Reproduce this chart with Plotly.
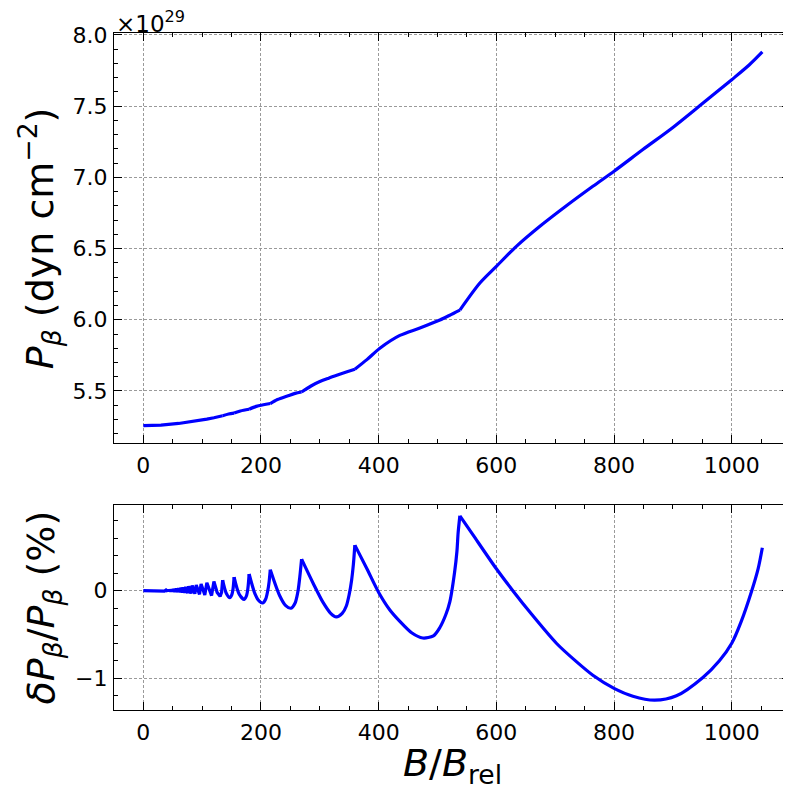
import plotly.graph_objects as go

# ---------------- data ----------------
# top panel: P_beta in units of 1e29 dyn cm^-2
B_top = [0, 30, 60, 90, 108, 120, 134.8, 145, 154.3, 165, 179.8, 192, 204, 215.8,
         228, 245, 258, 269, 285, 300, 315, 330, 345, 359.5, 380, 402, 436, 470,
         504, 520, 538, 572, 600, 634, 674, 719, 764, 800, 849, 900, 945, 1000,
         1030, 1052]
P_top = [5.257, 5.261, 5.272, 5.289, 5.302, 5.312, 5.326, 5.338, 5.345, 5.360,
         5.372, 5.392, 5.403, 5.412, 5.440, 5.465, 5.483, 5.493, 5.535, 5.566,
         5.590, 5.612, 5.633, 5.653, 5.72, 5.80, 5.89, 5.942, 5.998, 6.03, 6.068,
         6.258, 6.375, 6.515, 6.656, 6.80, 6.937, 7.043, 7.195, 7.35, 7.50,
         7.685, 7.79, 7.88]

# bottom panel: relative difference (%)
B_bot = [0, 20, 30, 36, 38.6, 39.7, 40, 41.2, 41.5, 42.9, 43.2, 44.7, 45, 46.6,
         47, 48.7, 49.1, 50.9, 51.4, 53.5, 54, 56.2, 56.8, 59.2, 60, 62.6, 63.5,
         66.3, 67.5, 70.6, 72, 75.5, 77.1, 81.1, 83.1, 87.6, 90, 95.5, 98.2,
         104.5, 108, 116, 120, 125.5, 130.5, 133, 134.8, 141, 147, 150.5, 152.5,
         154.3, 163, 171.5, 175.5, 177.8, 179.8, 190, 197, 203, 208, 211.5,
         213.8, 215.8, 232, 242, 251, 258, 263, 266, 269, 289, 306, 318, 328,
         338, 345, 350, 354, 357, 359.5, 380, 400, 419, 436, 456, 475, 493, 504,
         514, 521, 529, 533, 535, 538, 560, 600, 628, 660, 702, 736, 764, 800,
         832, 869, 906, 951, 979, 1000, 1016, 1034, 1045, 1052]
dP = [0.0, 0.0, 0.001, -0.004, 0.008, -0.005, 0.009, -0.006, 0.011, -0.007,
      0.013, -0.008, 0.015, -0.009, 0.017, -0.010, 0.019, -0.011, 0.022, -0.013,
      0.025, -0.015, 0.028, -0.017, 0.031, -0.019, 0.035, -0.022, 0.040, -0.025,
      0.045, -0.028, 0.051, -0.032, 0.058, -0.036, 0.066, -0.042, 0.077, -0.048,
      0.090, -0.056, 0.105, -0.020, -0.065, -0.020, 0.120, -0.030, -0.080,
      -0.045, 0.020, 0.155, -0.040, -0.100, -0.055, 0.030, 0.190, -0.040,
      -0.120, -0.140, -0.095, 0.0, 0.100, 0.240, -0.060, -0.170, -0.200,
      -0.140, 0.0, 0.160, 0.360, 0.080, -0.140, -0.255, -0.300, -0.260,
      -0.175, -0.040, 0.120, 0.300, 0.520, 0.250, -0.020, -0.220, -0.350,
      -0.480, -0.540, -0.515, -0.420, -0.275, -0.125, 0.210, 0.450, 0.660,
      0.855, 0.640, 0.250, 0.0, -0.270, -0.600, -0.810, -0.965, -1.115, -1.205,
      -1.250, -1.200, -0.990, -0.800, -0.600, -0.353, 0.0, 0.255, 0.490]

# field values where the curves have cusps (Landau level thresholds)
cusps = [134.8, 154.3, 179.8, 215.8, 269, 359.5, 538]

x_ticks = [0, 200, 400, 600, 800, 1000]
x_labels = ["0", "200", "400", "600", "800", "1000"]
top_y_ticks = [5.5, 6.0, 6.5, 7.0, 7.5, 8.0]
top_y_labels = ["5.5", "6.0", "6.5", "7.0", "7.5", "8.0"]
bot_y_ticks = [-1, 0]
bot_y_labels = ["\u22121", "0"]

x_title = "<i>B</i>/<i>B</i><sub>rel</sub>"
top_y_title = "<i>P</i><sub><i>\u03b2</i></sub> (dyn cm<sup>\u22122</sup>)"
bot_y_title = "<i>\u03b4P</i><sub><i>\u03b2</i></sub>/<i>P</i><sub><i>\u03b2</i></sub> (%)"
offset_text = "\u00d710<sup>29</sup>"

# ---------------- figure ----------------
FONT = "DejaVu Sans"
BLUE = "#0000ff"
LW = 3.2
fig = go.Figure()


def add_segments(xs, ys, xa, ya):
    """Split a curve at the cusps; draw each piece smoothly."""
    bounds = [xs[0]] + cusps + [xs[-1]]
    for i in range(len(bounds) - 1):
        lo, hi = bounds[i], bounds[i + 1]
        sx = [x for x in xs if lo <= x <= hi]
        sy = [y for x, y in zip(xs, ys) if lo <= x <= hi]
        shape = "linear" if i == 0 else "spline"
        fig.add_trace(go.Scatter(x=sx, y=sy, mode="lines",
                                 line=dict(color=BLUE, width=LW, shape=shape,
                                           smoothing=0.8),
                                 xaxis=xa, yaxis=ya, showlegend=False,
                                 hoverinfo="skip"))


add_segments(B_top, P_top, "x", "y")
add_segments(B_bot, dP, "x2", "y2")


def axstyle(**kw):
    d = dict(showline=True, linecolor="black", linewidth=1.3, mirror="allticks",
             ticks="inside", ticklen=8, tickwidth=1.3, tickcolor="black",
             showgrid=True, gridcolor="#9a9a9a", gridwidth=0.8, griddash="3px,2px",
             zeroline=False, automargin=False,
             tickfont=dict(family=FONT, size=22, color="black"))
    d.update(kw)
    return d


minor_x = dict(ticks="inside", ticklen=4, tickwidth=1.1, tickcolor="black",
               tick0=0, dtick=50, showgrid=False)

title_font = dict(family=FONT, size=38, color="black")

# the page places the figure 8 px from the top-left corner; margins compensate
fig.update_layout(
    width=791, height=791,
    margin=dict(l=106, r=9, t=25, b=89),
    plot_bgcolor="white", paper_bgcolor="white",
    font=dict(family=FONT, color="black"),
    xaxis=axstyle(domain=[0, 1], range=[-49.8, 1099], anchor="y",
                  tickmode="array", tickvals=x_ticks, ticktext=x_labels,
                  minor=minor_x, ticklabelstandoff=2),
    yaxis=axstyle(domain=[0.394, 1], range=[5.133, 8.013], anchor="x",
                  tickmode="array", tickvals=top_y_ticks, ticktext=top_y_labels,
                  minor=dict(ticks="inside", ticklen=4, tickwidth=1.1,
                             tickcolor="black", tick0=0, dtick=0.1, showgrid=False),
                  ticklabelstandoff=1),
    xaxis2=axstyle(domain=[0, 1], range=[-49.8, 1099], anchor="y2",
                   tickmode="array", tickvals=x_ticks, ticktext=x_labels,
                   minor=minor_x, ticklabelstandoff=2),
    yaxis2=axstyle(domain=[0, 0.3028], range=[-1.362, 0.978], anchor="x2",
                   tickmode="array", tickvals=bot_y_ticks, ticktext=bot_y_labels,
                   minor=dict(ticks="inside", ticklen=4, tickwidth=1.1,
                              tickcolor="black", tick0=0, dtick=0.2, showgrid=False),
                   ticklabelstandoff=1),
    annotations=[
        dict(text=offset_text, xref="paper", yref="paper",
             x=0, y=1, xanchor="left", yanchor="bottom", showarrow=False,
             xshift=0, yshift=-6, font=dict(family=FONT, size=23, color="black")),
        dict(text=x_title, xref="x2 domain", yref="y2 domain", x=0.5, y=0,
             xanchor="center", yanchor="middle", showarrow=False,
             yshift=-55, font=title_font),
        dict(text=top_y_title, xref="x domain", yref="y domain", x=0, y=0.5,
             xanchor="center", yanchor="middle", textangle=-90, showarrow=False,
             xshift=-75, font=title_font),
        dict(text=bot_y_title, xref="x2 domain", yref="y2 domain", x=0, y=0.5,
             xanchor="center", yanchor="middle", textangle=-90, showarrow=False,
             xshift=-70, font=title_font),
    ],
)

fig.write_html("out.html")
